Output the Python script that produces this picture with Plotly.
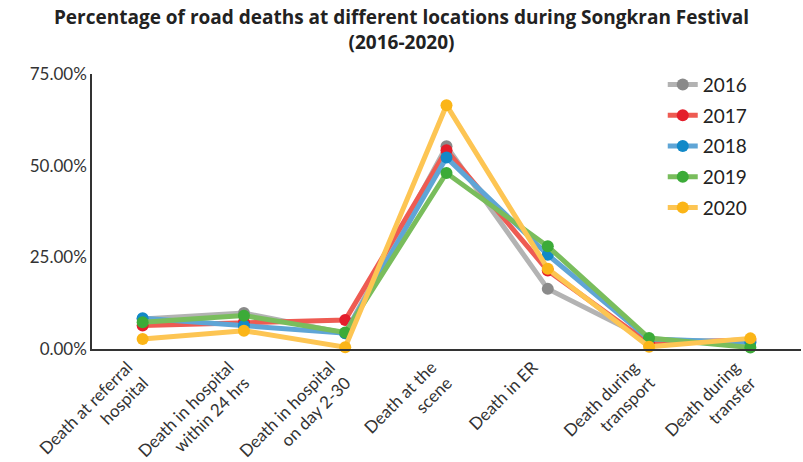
import plotly.graph_objects as go

categories = [
    "Death at referral<br>hospital",
    "Death in hospital<br>within 24 hrs",
    "Death in hospital<br>on day 2-30",
    "Death at the<br>scene",
    "Death in ER",
    "Death during<br>transport",
    "Death during<br>transfer",
]
years = ["2016", "2017", "2018", "2019", "2020"]
v2016 = [8.2, 9.8, 4.3, 55.3, 16.4, 2.5, 2.0]
v2017 = [6.4, 7.3, 7.9, 54.2, 21.4, 1.5, 2.5]
v2018 = [8.4, 6.4, 4.3, 52.2, 25.7, 2.7, 1.8]
v2019 = [7.3, 9.1, 4.5, 48.0, 28.0, 3.0, 0.4]
v2020 = [2.7, 5.0, 0.5, 66.5, 21.9, 0.6, 2.9]
series = [v2016, v2017, v2018, v2019, v2020]
y_ticks = [0, 25, 50, 75]
y_tick_labels = ["0.00%", "25.00%", "50.00%", "75.00%"]

line_colors = ["#b3b3b3", "#ee5b52", "#5fa5d6", "#79bd5c", "#fdc553"]
marker_colors = ["#8a8a8a", "#e41e2b", "#1189c8", "#3cab38", "#fbb517"]

FONT = "Lato"
fig = go.Figure()
for name, vals, lc, mc in zip(years, series, line_colors, marker_colors):
    fig.add_trace(go.Scatter(
        x=categories, y=vals, name=name, mode="lines+markers",
        legendgroup=name,
        line=dict(color=lc, width=5),
        marker=dict(color=mc, size=12),
        cliponaxis=False,
    ))

fig.update_layout(
    width=803, height=462,
    margin=dict(l=92, r=2, t=74, b=113),
    paper_bgcolor="white", plot_bgcolor="white",
    title=dict(
        text="<b>Percentage of road deaths at different locations during Songkran Festival<br>(2016-2020)</b>",
        x=0.5, xanchor="center", yref="container", y=0.947, yanchor="middle",
        font=dict(family="Open Sans", size=19, color="#222"),
    ),
    font=dict(family=FONT, color="#333"),
    showlegend=True,
    legend=dict(
        x=0.805, y=1.03, xanchor="left", yanchor="top",
        font=dict(family=FONT, size=19, color="#222"),
        bgcolor="rgba(0,0,0,0)", tracegroupgap=3, itemwidth=30,
    ),
    xaxis=dict(
        type="category", range=[-0.5, 6.5], showgrid=False, automargin=False,
        showline=True, linecolor="#333", linewidth=1.5,
        ticks="", tickangle=-45, ticklabelshift=-15,
        tickfont=dict(family=FONT, size=17, color="#333"),
    ),
    yaxis=dict(
        range=[0, 75], tickvals=y_ticks, ticktext=y_tick_labels, automargin=False,
        showgrid=False, zeroline=False,
        showline=True, linecolor="#333", linewidth=1.5,
        ticks="", tickfont=dict(family=FONT, size=17, color="#333"),
    ),
)

fig.write_html("out.html", config={"displayModeBar": False},
               post_script="document.body.style.margin='0';")
